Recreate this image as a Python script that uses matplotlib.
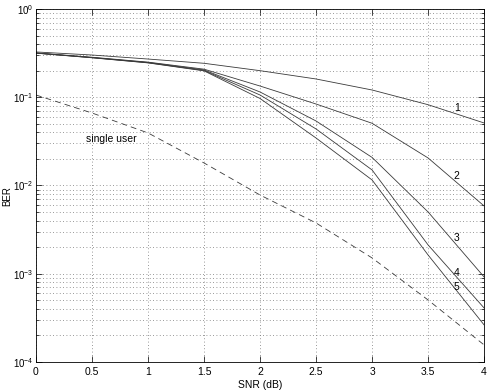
import numpy as np
import matplotlib
matplotlib.use('Agg')
import matplotlib.pyplot as plt
from matplotlib.ticker import LogLocator, NullFormatter

plt.rcParams['font.family'] = ['Liberation Sans', 'DejaVu Sans']

# SNR points (dB)
snr = [0, 0.5, 1, 1.5, 2, 2.5, 3, 3.5, 4]

# BER curves
ber_1 = [0.326, 0.301, 0.271, 0.2425, 0.200, 0.161, 0.1208, 0.0823, 0.0511]
ber_2 = [0.318, 0.284, 0.250, 0.208, 0.134, 0.0838, 0.0507, 0.0205, 0.00586]
ber_3 = [0.317, 0.282, 0.248, 0.204, 0.1147, 0.0538, 0.0208, 0.00501, 0.000919]
ber_4 = [0.316, 0.281, 0.246, 0.201, 0.106, 0.0437, 0.0150, 0.00212, 0.000409]
ber_5 = [0.316, 0.280, 0.245, 0.199, 0.0968, 0.0345, 0.01155, 0.00163, 0.000263]
ber_single = [0.106, 0.0663, 0.0394, 0.0180, 0.0078, 0.00376, 0.00151, 0.000504, 0.000156]

curve_labels = ['1', '2', '3', '4', '5']
label_x = 3.756
label_y = [0.0755, 0.0128, 0.00257, 0.00103, 0.000713]

fig = plt.figure(figsize=(4.95, 3.91), dpi=100)
ax = fig.add_axes([0.0727, 0.0742, 0.9053, 0.9028])

for ber in [ber_1, ber_2, ber_3, ber_4, ber_5]:
    ax.semilogy(snr, ber, color='#3a3a3a', linewidth=0.6)
ax.semilogy(snr, ber_single, color='#3a3a3a', linewidth=0.6, linestyle=(0, (7, 5)))

for lab, ly in zip(curve_labels, label_y):
    ax.text(label_x, ly, lab, fontsize=7.5, ha='center', va='center')
ax.text(0.445, 0.0336, 'single user', fontsize=7.5, ha='left', va='center')

ax.set_xlim(0, 4)
ax.set_ylim(1e-4, 1)
ax.set_xticks([0, 0.5, 1, 1.5, 2, 2.5, 3, 3.5, 4])
ax.set_xticklabels(['0', '0.5', '1', '1.5', '2', '2.5', '3', '3.5', '4'])
ax.yaxis.set_major_locator(LogLocator(base=10, numticks=10))
ax.yaxis.set_minor_locator(LogLocator(base=10, subs=np.arange(2, 10), numticks=20))
ax.yaxis.set_minor_formatter(NullFormatter())

ax.tick_params(which='both', direction='in', top=True, right=True, labelsize=7.5, width=0.5)
ax.tick_params(axis='y', which='major', labelsize=7, pad=2)
ax.tick_params(which='major', length=4)
ax.tick_params(which='minor', length=2)
ax.grid(True, which='major', axis='both', linestyle=(0, (1, 3)), color='#777777', linewidth=0.6)
ax.grid(True, which='minor', axis='y', linestyle=(0, (1, 3)), color='#777777', linewidth=0.6)
for s in ax.spines.values():
    s.set_linewidth(0.6)

ax.set_xlabel('SNR (dB)', fontsize=7.5, labelpad=2)
ax.set_ylabel('BER', fontsize=7)
ax.yaxis.set_label_coords(-0.052, 0.47)

fig.savefig('out.png', dpi=100)
